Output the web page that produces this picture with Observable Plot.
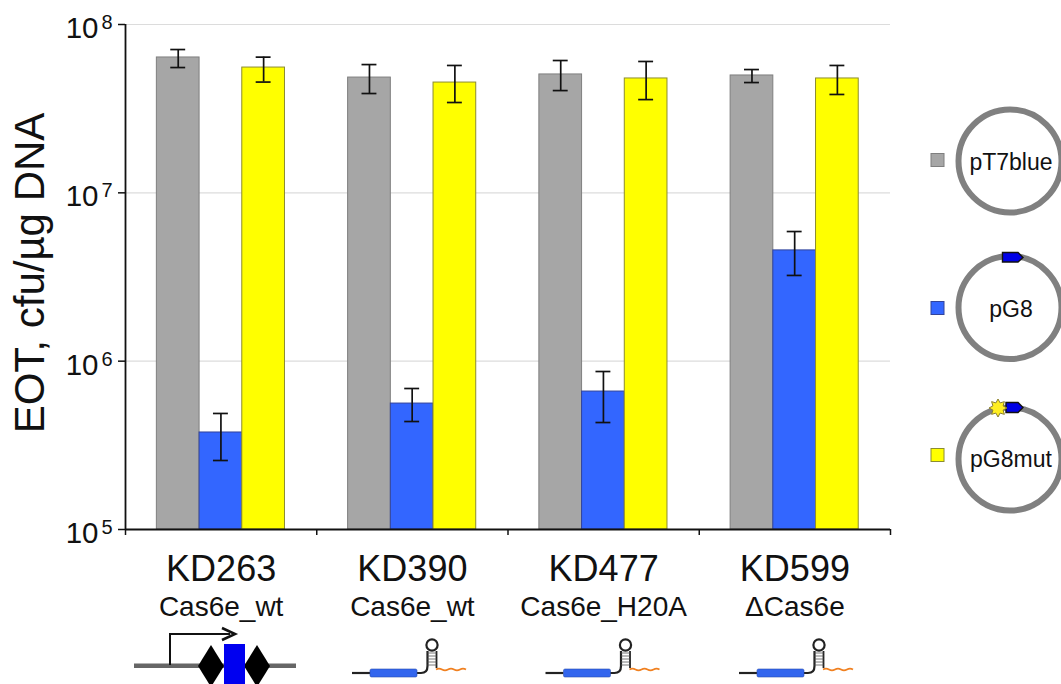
<!DOCTYPE html>
<html><head><meta charset="utf-8">
<script src="https://cdn.jsdelivr.net/npm/d3@7"></script>
<script src="https://cdn.jsdelivr.net/npm/@observablehq/plot@0.6"></script>
<style>
html,body{margin:0;padding:0;background:#fff;width:1061px;height:684px;overflow:hidden}
#wrap{position:relative;width:1061px;height:684px;font-family:"Liberation Sans",Arial,sans-serif}
#wrap svg{position:absolute;left:0;top:0}
</style></head><body><div id="wrap"></div>
<script>
const strains = ["KD263","KD390","KD477","KD599"];
const variants = ["Cas6e_wt","Cas6e_wt","Cas6e_H20A","ΔCas6e"];
const plasmids = ["pT7blue","pG8","pG8mut"];
const colors = ["#a6a6a6","#3366ff","#ffff00"];
const strokes = ["#7f7f7f","#33449a","#8c8c30"];
const pT7blue = [6.37e7,4.84e7,5.05e7,4.98e7];
const pT7blueHigh = [7.1e7,5.78e7,6.11e7,5.40e7];
const pT7blueLow = [5.55e7,3.89e7,4.05e7,4.52e7];
const pG8 = [3.77e5,5.6e5,6.6e5,4.55e6];
const pG8High = [4.89e5,6.88e5,8.68e5,5.89e6];
const pG8Low = [2.57e5,4.38e5,4.32e5,3.23e6];
const pG8mut = [5.55e7,4.52e7,4.78e7,4.78e7];
const pG8mutHigh = [6.4e7,5.71e7,6.03e7,5.71e7];
const pG8mutLow = [4.55e7,3.44e7,3.58e7,3.84e7];
const yTicks = [1e5,1e6,1e7,1e8];
const gridTicks = [1e6,1e7,1e8];
const exponents = ["5","6","7","8"];

const means=[pT7blue,pG8,pG8mut], highs=[pT7blueHigh,pG8High,pG8mutHigh], lows=[pT7blueLow,pG8Low,pG8mutLow];
const barW = 0.2233, lead = 0.164;
const rows = strains.flatMap((g,i)=>plasmids.map((p,s)=>({
  g,p,s,value:means[s][i],high:highs[s][i],low:lows[s][i],
  x1:i+lead+s*barW,x2:i+lead+(s+1)*barW,xc:i+lead+(s+.5)*barW
})));
const groups = strains.map((g,i)=>({g,v:variants[i],xm:i+.5}));
const capW = 0.039;

const chart = Plot.plot({
  width:1061,height:684,marginLeft:125,marginRight:171,marginTop:24,marginBottom:155,
  style:{fontFamily:"'Liberation Sans',Arial,sans-serif",background:"transparent",color:"#111"},
  x:{type:"linear",domain:[0,4]},
  y:{type:"log",domain:[1e5,1e8]},
  marks:[
    Plot.ruleY(gridTicks,{stroke:"#dcdcdc",strokeWidth:1.2}),
    Plot.rectY(rows,{x1:"x1",x2:"x2",y1:1e5,y2:"value",fill:d=>colors[d.s],stroke:d=>strokes[d.s],strokeWidth:1}),
    Plot.ruleX(rows,{x:"xc",y1:"low",y2:"high",stroke:"#111",strokeWidth:1.7}),
    Plot.ruleY(rows,{y:"high",x1:d=>d.xc-capW,x2:d=>d.xc+capW,stroke:"#111",strokeWidth:1.7}),
    Plot.ruleY(rows,{y:"low",x1:d=>d.xc-capW,x2:d=>d.xc+capW,stroke:"#111",strokeWidth:1.7}),
    Plot.axisY({ticks:yTicks,tickSize:7,tickFormat:()=>"",label:null,stroke:"#111",strokeWidth:1.5}),
    Plot.axisX({ticks:[0,1,2,3,4],tickSize:6,tickFormat:()=>"",label:null,stroke:"#111",strokeWidth:1.5}),
    Plot.ruleX([0],{stroke:"#111",strokeWidth:1.8}),
    Plot.ruleY([1e5],{stroke:"#111",strokeWidth:1.8}),
    Plot.text(yTicks,{y:d=>d,x:()=>0,text:()=>"10",textAnchor:"end",dx:-27,dy:4,fontSize:29.5,fill:"#111"}),
    Plot.text(yTicks,{y:d=>d,x:()=>0,text:(d,i)=>exponents[i],textAnchor:"start",dx:-24,dy:-2,fontSize:20,fill:"#111"}),
    Plot.text(["EOT, cfu/µg DNA"],{frameAnchor:"left",textAnchor:"middle",rotate:-90,dx:-95,dy:-4,fontSize:42,fill:"#111"}),
    Plot.text(groups,{x:"xm",text:"g",frameAnchor:"bottom",dy:51,fontSize:36,fill:"#111"}),
    Plot.text(groups,{x:"xm",text:"v",frameAnchor:"bottom",dy:86,fontSize:28,fill:"#111"})
  ]
});
const wrap=document.getElementById("wrap");
wrap.appendChild(chart);

// Legend and schematic drawings
const NS="http://www.w3.org/2000/svg";
const ov=document.createElementNS(NS,"svg");
ov.setAttribute("width",1061);ov.setAttribute("height",684);
function el(tag,a,txt){const e=document.createElementNS(NS,tag);for(const k in a)e.setAttribute(k,a[k]);if(txt)e.textContent=txt;ov.appendChild(e);return e;}
const cy=[161,307.5,459], sy=[160,308,455], ty=[170,317,467];
plasmids.forEach((p,i)=>{
  el("rect",{x:931,y:sy[i]-6.5,width:13,height:13,fill:colors[i],stroke:strokes[i],"stroke-width":1});
  el("circle",{cx:1010,cy:cy[i],r:51.5,fill:"none",stroke:"#808080","stroke-width":6});
  el("text",{x:1011,y:ty[i],"text-anchor":"middle","font-size":23,fill:"#111","font-family":"Liberation Sans"},p);
});
el("path",{d:"M1002.5 252.5H1018L1023 257.5L1018 262H1002.5Z",fill:"#0000e6",stroke:"#111","stroke-width":1.4});
el("path",{d:"M1006 402.5H1018L1023 407.5L1018 412.5H1006Z",fill:"#0000e6",stroke:"#111","stroke-width":1.4});
const star=d3.range(16).map(k=>{const r=k%2?5.5:9,a=k*Math.PI/8;return [998+r*Math.cos(a),408+r*Math.sin(a)].join(",")}).join(" ");
el("polygon",{points:star,fill:"#ffee22",stroke:"#8a8030","stroke-width":1});

// KD263 promoter drawing
el("line",{x1:134,x2:296,y1:665.7,y2:665.7,stroke:"#666","stroke-width":4.5});
el("path",{d:"M170 665V634H230",fill:"none",stroke:"#111","stroke-width":2});
el("path",{d:"M222 628L235 634L222 640",fill:"none",stroke:"#111","stroke-width":2.6});
el("path",{d:"M198 666L211 645L224 666L211 687Z",fill:"#000"});
el("path",{d:"M244 666L257 645L270 666L257 687Z",fill:"#000"});
el("rect",{x:224,y:644,width:21,height:42,fill:"#0000f0"});

// crRNA drawing
[0,193.5,387].forEach(o=>{
  el("path",{d:`M${352+o} 673H${370+o}`,stroke:"#222","stroke-width":2.2,fill:"none"});
  el("path",{d:`M${416+o} 673H${421+o}Q${427.5+o} 673 ${427.5+o} 666V651`,stroke:"#222","stroke-width":2.2,fill:"none"});
  el("rect",{x:370+o,y:669,width:47,height:8,rx:1.5,fill:"#3366ee",stroke:"#2a4fb0","stroke-width":.6});
  el("circle",{cx:432+o,cy:645,r:5.6,fill:"#fff",stroke:"#222","stroke-width":2.2});
  el("path",{d:`M${436.5+o} 651V668`,stroke:"#222","stroke-width":1.8,fill:"none"});
  for(const yy of [653,656,659,662,665]) el("path",{d:`M${427.5+o} ${yy}H${436.5+o}`,stroke:"#555","stroke-width":.8});
  let d=`M${436+o} 669.5`;
  for(let k=0;k<5;k++) d+=`q3 ${k%2?1.6:-1.6} 6 0`;
  el("path",{d,fill:"none",stroke:"#f08020","stroke-width":1.8});
});
wrap.appendChild(ov);
</script></body></html>
